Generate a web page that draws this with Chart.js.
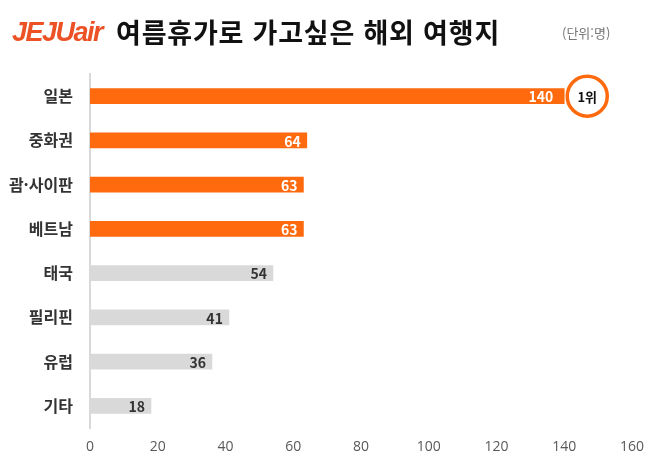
<!DOCTYPE html>
<html lang="ko">
<head>
    <meta charset="UTF-8">
    <title>여름휴가로 가고싶은 해외 여행지</title>
    <script src="https://cdn.jsdelivr.net/npm/chart.js"></script>
    <style>
        body { margin: 0; padding: 0; background: #fff; }
        .wrap { position: relative; width: 658px; height: 473px; }
        .logo {
            position: absolute; left: 12px; top: 17px;
            font-family: "Liberation Sans", Arial, sans-serif;
            font-weight: bold; font-style: italic;
            font-size: 27px; color: #EC5225; letter-spacing: -1.5px;
        }
        .title {
            position: absolute; left: 116px; top: 12px;
            font-family: "Noto Sans CJK KR", sans-serif;
            font-weight: bold; font-size: 27px; color: #111;
            letter-spacing: 0.8px;
        }
        .unit {
            position: absolute; left: 562px; top: 23px;
            font-family: "Noto Sans CJK KR", sans-serif;
            font-size: 13px; color: #777;
        }
        canvas { position: absolute; left: 0; top: 0; }
    </style>
</head>
<body>
<div class="wrap">
    <canvas id="chart" width="658" height="473"></canvas>
    <div class="logo">JEJUair</div>
    <div class="title">여름휴가로 가고싶은 해외 여행지</div>
    <div class="unit">(단위:명)</div>
</div>
<script>
    // 데이터
    const destinations = ['일본', '중화권', '괌·사이판', '베트남', '태국', '필리핀', '유럽', '기타'];
    const votes = [140, 64, 63, 63, 54, 41, 36, 18];
    const highlighted = [true, true, true, true, false, false, false, false];

    const ORANGE = '#FF6A0E';
    const GREY = '#D9D9D9';

    // 막대 안쪽 끝에 값 표시 + 1위 배지
    const labelPlugin = {
        id: 'barLabels',
        afterDatasetsDraw(chart) {
            const ctx = chart.ctx;
            const meta = chart.getDatasetMeta(0);
            ctx.save();
            ctx.font = 'bold 14px "Noto Sans CJK KR", sans-serif';
            ctx.textAlign = 'right';
            ctx.textBaseline = 'middle';
            meta.data.forEach((bar, i) => {
                ctx.fillStyle = highlighted[i] ? '#FFFFFF' : '#333333';
                // 1위 막대는 배지와 겹치지 않게 조금 더 안쪽
                const gap = i === 0 ? 11 : 6;
                ctx.fillText(votes[i], bar.x - gap, bar.y + 1);
            });
            // 1위 표시
            const top = meta.data[0];
            const cx = top.x + 23, cy = top.y;
            ctx.beginPath();
            ctx.arc(cx, cy, 20, 0, Math.PI * 2);
            ctx.fillStyle = '#FFFFFF';
            ctx.fill();
            ctx.lineWidth = 3.5;
            ctx.strokeStyle = ORANGE;
            ctx.stroke();
            ctx.fillStyle = '#111';
            ctx.textAlign = 'center';
            ctx.font = 'bold 13px "Noto Sans CJK KR", sans-serif';
            ctx.fillText('1위', cx, cy + 1);
            ctx.restore();
        }
    };

    new Chart(document.getElementById('chart'), {
        type: 'bar',
        data: {
            labels: destinations,
            datasets: [{
                data: votes,
                backgroundColor: highlighted.map(h => h ? ORANGE : GREY),
                barThickness: 15
            }]
        },
        options: {
            indexAxis: 'y',
            responsive: false,
            animation: false,
            layout: { padding: { top: 74, right: 26, left: 0, bottom: 0 } },
            plugins: {
                legend: { display: false },
                tooltip: { enabled: false }
            },
            scales: {
                x: {
                    min: 0,
                    max: 160,
                    grid: { display: false, drawTicks: false },
                    border: { display: false },
                    ticks: {
                        stepSize: 20,
                        padding: 11,
                        color: '#595959',
                        font: { family: '"Open Sans", sans-serif', size: 14 }
                    },
                    afterFit(scale) { scale.height = 45; }
                },
                y: {
                    grid: { display: false, drawTicks: false },
                    border: { display: true, color: '#D9D9D9', width: 2 },
                    ticks: {
                        padding: 17,
                        color: '#333333',
                        font: { family: '"Noto Sans CJK KR", sans-serif', size: 16, weight: 'bold' }
                    },
                    afterFit(scale) { scale.width = 90; }
                }
            }
        },
        plugins: [labelPlugin]
    });
</script>
</body>
</html>
